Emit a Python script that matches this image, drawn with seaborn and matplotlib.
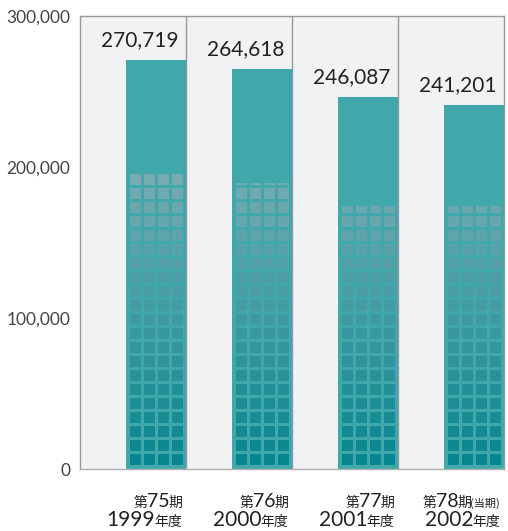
import numpy as np
import pandas as pd
import matplotlib
matplotlib.use("Agg")
import matplotlib.pyplot as plt
import matplotlib.transforms as mtransforms
from matplotlib.patches import Rectangle
import seaborn as sns

# data
periods = ["第75期", "第76期", "第77期", "第78期"]
period_nums = ["75", "76", "77", "78"]
years = ["1999", "2000", "2001", "2002"]
values = [270719, 264618, 246087, 241201]
value_labels = ["270,719", "264,618", "246,087", "241,201"]
window_top = [195400, 189400, 174200, 174200]   # top of the window grid on each bar
yticks = [0, 100000, 200000, 300000]
ytick_labels = ["0", "100,000", "200,000", "300,000"]

TEAL = "#40a8ab"
BG = "#f1f2f4"
EDGE = "#999999"
NUM_FONT = ["Lato", "DejaVu Sans"]
JP_FONT = ["Noto Sans CJK JP", "DejaVu Sans"]

sns.set_style("white")
plt.rcParams["font.family"] = NUM_FONT

fig = plt.figure(figsize=(5.08, 5.31), dpi=100)
ax = fig.add_axes([80 / 508, 62 / 531, 424 / 508, 453 / 531])
df = pd.DataFrame({"period": periods, "value": values})

BAR_W = 60 / 106
sns.barplot(data=df, x="period", y="value", color=TEAL, saturation=1,
            width=BAR_W, linewidth=0, ax=ax)

ax.set_facecolor(BG)
ax.set_xlim(-1 + BAR_W / 2, 3 + BAR_W / 2)
ax.set_ylim(0, 300000)
ax.set_xlabel("")
ax.set_ylabel("")
for s in ax.spines.values():
    s.set_color(EDGE)
    s.set_linewidth(1.0)
ax.spines["bottom"].set_color("#b0b0b0")

# panel dividers at the right edge of each bar
for i in range(len(values) - 1):
    ax.axvline(i + BAR_W / 2, color=EDGE, lw=1.0, zorder=0.5)

ax.set_yticks(yticks)
ax.set_yticklabels(ytick_labels, fontsize=12.5, color="#444444")
ax.tick_params(axis="y", direction="in", length=6, width=1, color=EDGE, pad=7)
ax.set_xticks([])

# window grid on bars
xpp = (ax.get_xlim()[1] - ax.get_xlim()[0]) / 424
ypp = 300000 / 453
c_top = np.array(matplotlib.colors.to_rgb("#78acb2"))
c_bot = np.array(matplotlib.colors.to_rgb("#04858e"))
bars = ax.patches[:len(values)]
for bar, top in zip(bars, window_top):
    x0 = bar.get_x()
    k = 0
    while True:
        yb = (4 + 14 * k) * ypp
        if yb >= top:
            break
        yt = min(yb + 11 * ypp, top)
        f = min((yb + yt) / 2 / 195000, 1)
        col = c_bot + (c_top - c_bot) * f
        for j in range(4):
            xl = x0 + (4 + 14 * j) * xpp
            ax.add_patch(Rectangle((xl, yb), 11 * xpp, yt - yb, facecolor=col,
                                   edgecolor="none", zorder=3))
        k += 1

# value labels
for bar, lab in zip(bars, value_labels):
    ax.annotate(lab, (bar.get_x() + bar.get_width(), bar.get_height()),
                xytext=(-8, 14), textcoords="offset pixels", ha="right",
                va="baseline", fontsize=15, color="#222222", family=NUM_FONT)

# category labels built from runs of different sizes, right aligned
fig.canvas.draw()
renderer = fig.canvas.get_renderer()
base = ax.get_xaxis_transform()


def runs_right(x, y_px, runs):
    dx = -4
    for txt, size, fam in reversed(runs):
        tr = base + mtransforms.Affine2D().translate(dx, y_px)
        t = ax.text(x, 0, txt, transform=tr, ha="right", va="baseline",
                    fontsize=size, family=fam, color="#222222", clip_on=False)
        dx -= t.get_window_extent(renderer=renderer).width - 1


for i, bar in enumerate(bars):
    xr = bar.get_x() + bar.get_width()
    line1 = [("第", 10, JP_FONT), (period_nums[i], 14, NUM_FONT), ("期", 10, JP_FONT)]
    if i == len(bars) - 1:
        line1.append(("(当期)", 8, JP_FONT))
    runs_right(xr, -38, line1)
    runs_right(xr, -57, [(years[i], 15, NUM_FONT), ("年度", 10, JP_FONT)])

fig.savefig("out.png", dpi=100)
